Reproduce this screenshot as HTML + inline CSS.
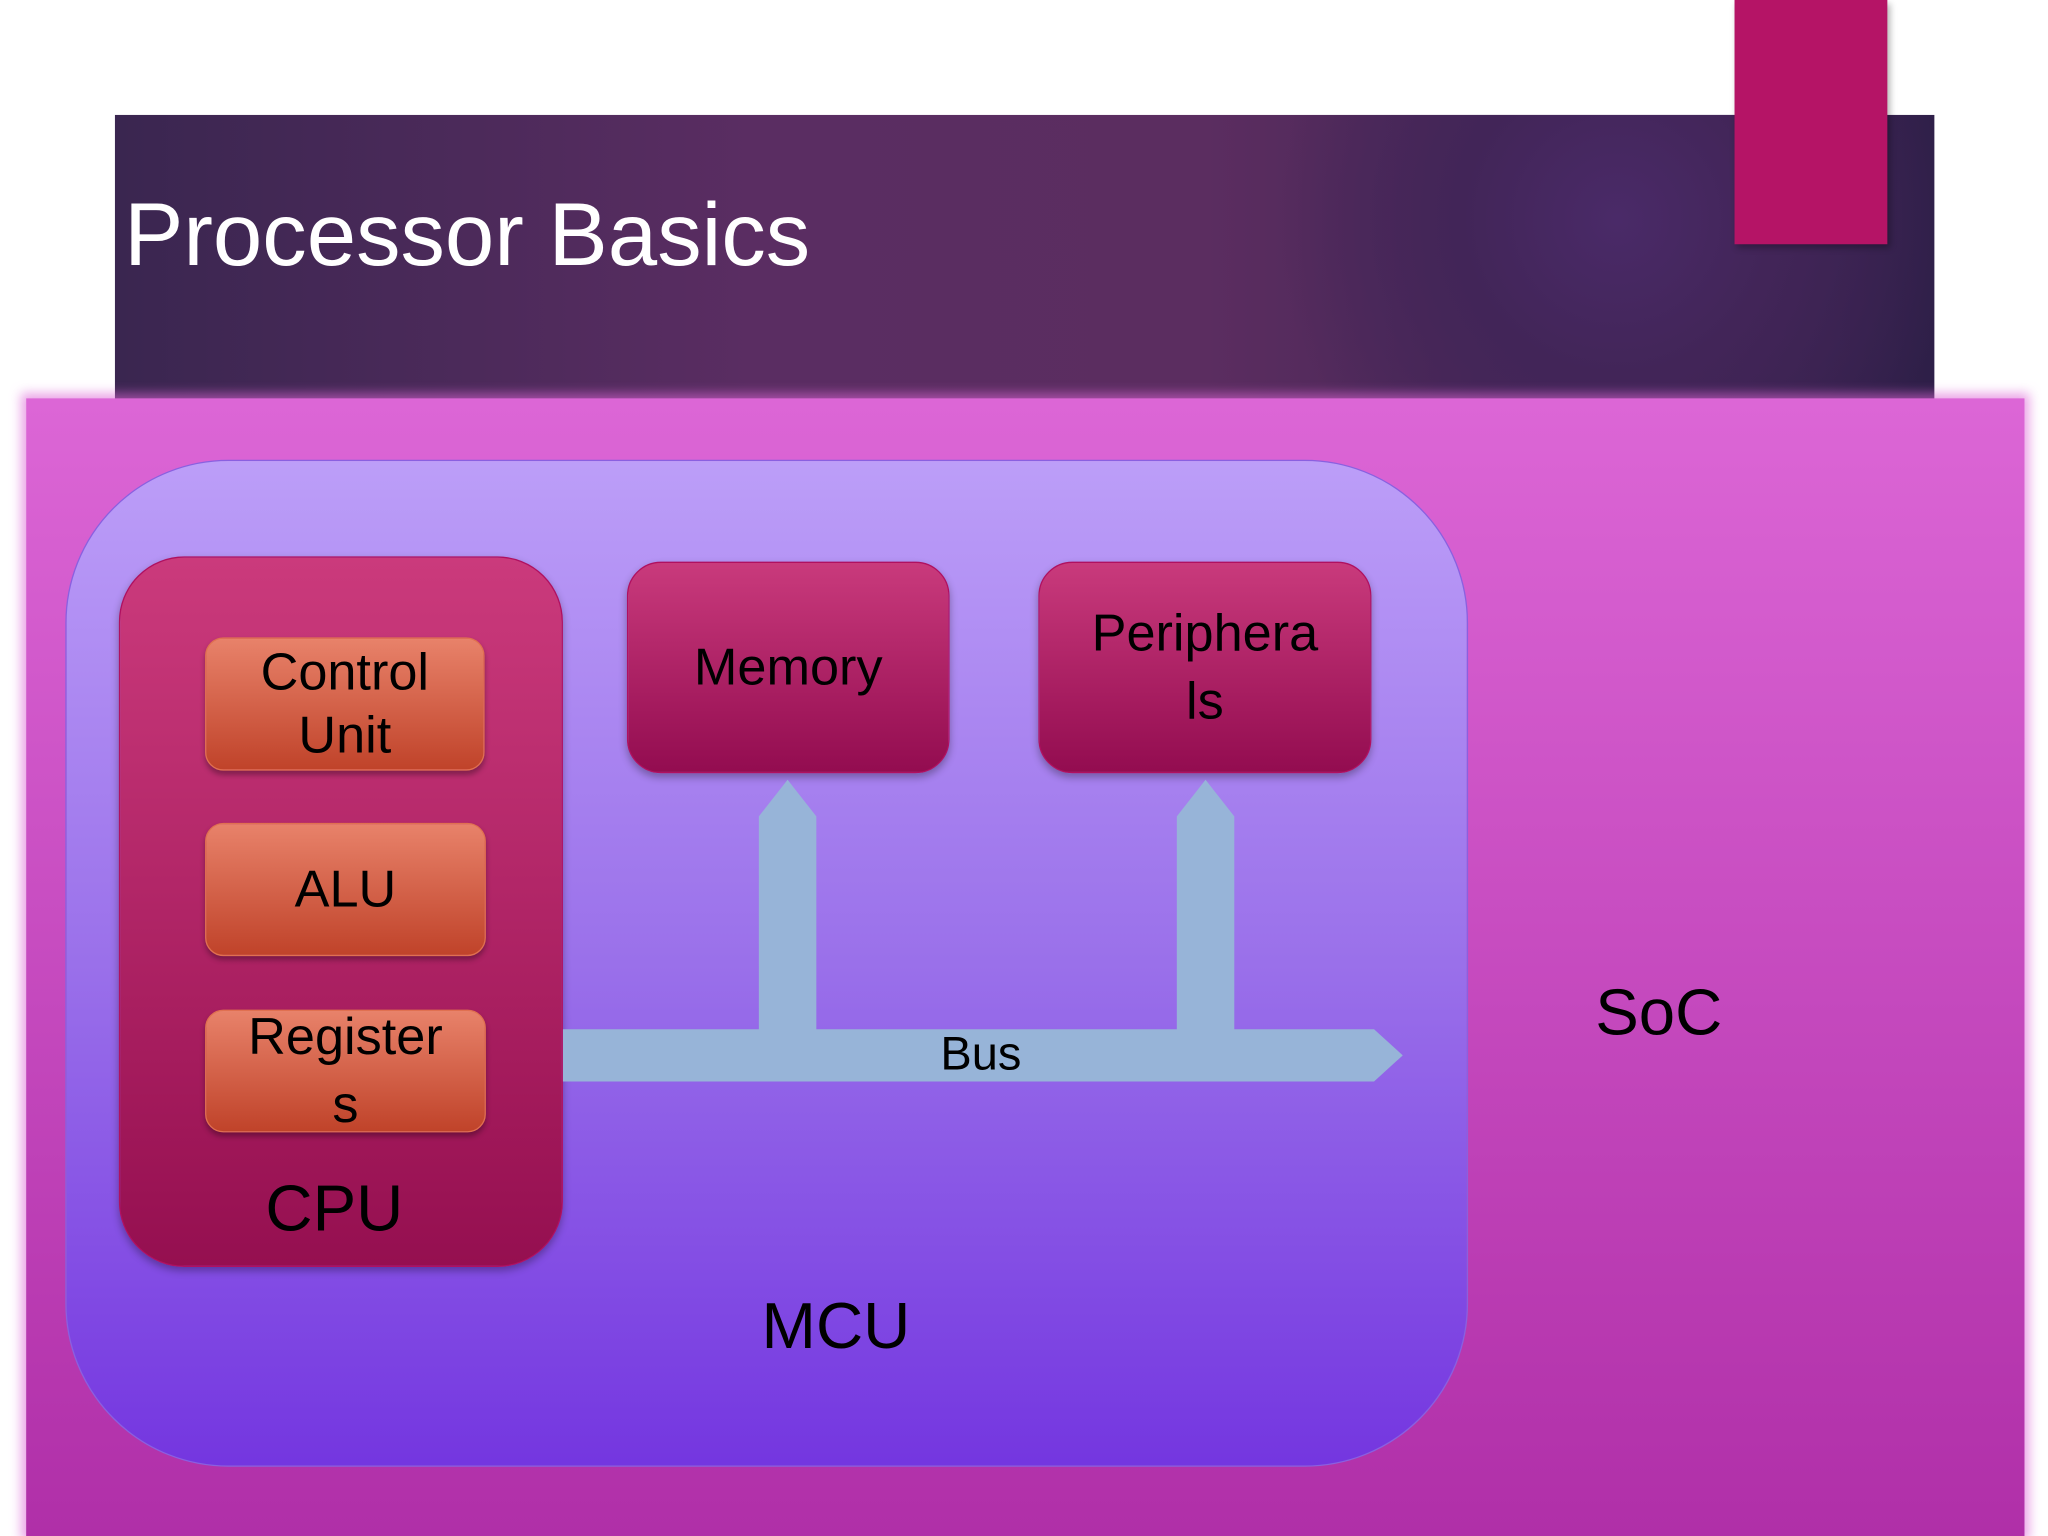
<!DOCTYPE html>
<html><head><meta charset="utf-8"><style>
html,body{margin:0;padding:0;background:#fff;overflow:hidden;width:2048px;height:1536px}
#w{position:absolute;left:0;top:0;width:1568px;height:1176px;transform:scale(1.306122);transform-origin:0 0;font-family:"Liberation Sans",sans-serif}
.a{position:absolute;box-sizing:border-box}
.t{display:flex;align-items:center;justify-content:center;text-align:center;color:#000;line-height:1.2}
.org{background:linear-gradient(#e8826a,#c0432a);border:1.5px solid #e07050;border-radius:14px;font-size:40px;box-shadow:0 3px 4px rgba(0,0,0,.3)}
.mag{background:linear-gradient(#c93a7c,#930c50);border:1.5px solid #b01060;border-radius:26px;font-size:40px;box-shadow:0 3px 6px rgba(0,0,0,.3)}
</style></head><body><div id="w">
<div class="a" style="left:88px;top:88px;width:1393px;height:220px;background:radial-gradient(circle at 1150px 80px,#4a2a68 0,#422558 120px,transparent 260px),linear-gradient(90deg,#3a2650 0%,#5a2d62 35%,#5b2d60 60%,#3f2452 85%,#2e1f48 100%)"></div>
<div class="a" style="left:1328px;top:0;width:117px;height:187px;background:#b51466;box-shadow:2px 3px 5px rgba(0,0,0,.3)"></div>
<div class="a" style="left:95px;top:140px;color:#fff;font-size:68px;line-height:80px">Processor Basics</div>
<div class="a" style="left:20px;top:305px;width:1530px;height:871px;background:linear-gradient(#dc66d6,#b02fa8);box-shadow:0 0 8px 4px rgba(220,100,214,.6)"></div>
<div class="a" style="left:50px;top:352px;width:1074px;height:771px;border-radius:125px;background:linear-gradient(#bc9ef8,#9a70ea 50%,#7436e0);border:1.5px solid #8a60e0"></div>
<div class="a" style="left:91px;top:426px;width:340px;height:544px;border-radius:50px;background:linear-gradient(#cb3a7c,#950f50);border:1.5px solid #b01060;box-shadow:0 3px 6px rgba(0,0,0,.3)"></div>
<div class="a t org" style="left:157px;top:488px;width:214px;height:102px">Control<br>Unit</div>
<div class="a t org" style="left:157px;top:630px;width:215px;height:102px">ALU</div>
<div class="a t org" style="left:157px;top:773px;width:215px;height:94px;line-height:1.3">Register<br>s</div>
<div class="a t" style="left:91px;top:895px;width:330px;height:60px;font-size:50px">CPU</div>
<div class="a t mag" style="left:480px;top:430px;width:247px;height:162px">Memory</div>
<div class="a t mag" style="left:795px;top:430px;width:255px;height:162px;line-height:1.3">Periphera<br>ls</div>
<svg class="a" style="left:0;top:0" width="1568" height="1176"><polygon fill="#97b4d8" points="431,788 581,788 581,625 603,597 625,625 625,788 901,788 901,625 923,597 945,625 945,788 1052,788 1074,808 1052,828 431,828"/></svg>
<div class="a" style="left:720px;top:786px;font-size:36px">Bus</div>
<div class="a t" style="left:540px;top:985px;width:200px;height:60px;font-size:50px">MCU</div>
<div class="a t" style="left:1200px;top:745px;width:140px;height:60px;font-size:50px">SoC</div>
</div></body></html>
